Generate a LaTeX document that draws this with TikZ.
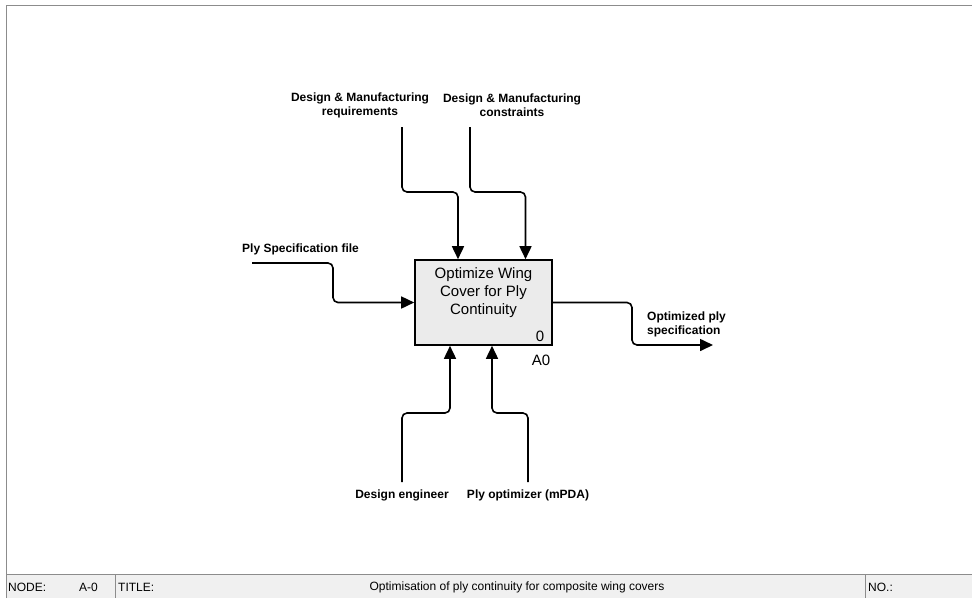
\documentclass[tikz,border=0pt]{standalone}
\usepackage{fontspec}
\setmainfont{Liberation Sans}
\usetikzlibrary{arrows.meta}
\definecolor{framegray}{HTML}{8C8C8C}
\definecolor{barfill}{HTML}{F0F0F0}
\definecolor{boxfill}{HTML}{EBEBEB}
\begin{document}
\begin{tikzpicture}[x=1pt,y=-1pt,
  flow/.style={line width=1.6pt,rounded corners=5pt,-{Triangle[length=13pt,width=12pt]}},
  lbl/.style={font=\fontsize{12}{14}\selectfont\bfseries,inner sep=0pt,align=center},
  bartext/.style={font=\fontsize{12}{14}\selectfont,inner sep=0pt,anchor=west},
  activity/.style={draw=black,line width=1.6pt,fill=boxfill,minimum width=137pt,minimum height=85pt,inner sep=0pt}]
\useasboundingbox (0,0) rectangle (972,598);

% page frame and title bar
\fill[barfill] (6.5,574) rectangle (972,598);
\draw[framegray,line width=1pt] (6.5,598) -- (6.5,5.5) -- (972,5.5);
\draw[framegray,line width=1pt] (6.5,574) -- (972,574);
\draw[framegray,line width=1pt] (115,574) -- (115,598);
\draw[framegray,line width=1pt] (865,574) -- (865,598);
\node[bartext] (nodelbl) at (8,587) {NODE:};
\node[bartext] (nodeval) at (79,587) {A-0};
\node[bartext] (titlelbl) at (118,587) {TITLE:};
\node[bartext,anchor=center] (titleval) at (517,587) {Optimisation of ply continuity for composite wing covers};
\node[bartext] (nolbl) at (868,587) {NO.:};

% activity box
\node[activity] (box) at (483.5,302.5) {};
\node[font=\fontsize{15}{18}\selectfont,align=center,inner sep=0pt] (boxtxt) at (483.5,293) {Optimize Wing\\Cover for Ply\\Continuity};
\node[font=\fontsize{15}{18}\selectfont,inner sep=0pt] (boxnum) at (540,336) {0};
\node[font=\fontsize{15}{18}\selectfont,inner sep=0pt] (boxid) at (541,360) {A0};

% labels
\node[lbl] (reqL) at (360,105.5) {Design \& Manufacturing\\requirements};
\node[lbl] (conL) at (512,105.5) {Design \& Manufacturing\\constraints};
\node[lbl,anchor=west] (plyL) at (242,249) {Ply Specification file};
\node[lbl,anchor=west,align=left] (outL) at (647,324.5) {Optimized ply\\specification};
\node[lbl] (engL) at (402,495) {Design engineer};
\node[lbl] (optL) at (528,495) {Ply optimizer (mPDA)};

% free ends and attachment columns
\coordinate (reqS) at (402,127);
\coordinate (conS) at (470,127);
\coordinate (reqX) at (458,0);
\coordinate (conX) at (525.5,0);
\coordinate (plyS) at (252,263);
\coordinate (outE) at (713,345);
\coordinate (engS) at (402,482);
\coordinate (optS) at (528,482);
\coordinate (engX) at (450,0);
\coordinate (optX) at (492,0);

% controls
\draw[flow] (reqS) -- (402,192) -| (box.north -| reqX);
\draw[flow] (conS) -- (470,192) -| (box.north -| conX);
% input
\draw[flow] (plyS) -- (333,263) |- (box.west);
% output
\draw[flow] (box.east) -| (632,345) -- (outE);
% mechanisms
\draw[flow] (engS) -- (402,413) -| (box.south -| engX);
\draw[flow] (optS) -- (528,413) -| (box.south -| optX);
\end{tikzpicture}
\end{document}
